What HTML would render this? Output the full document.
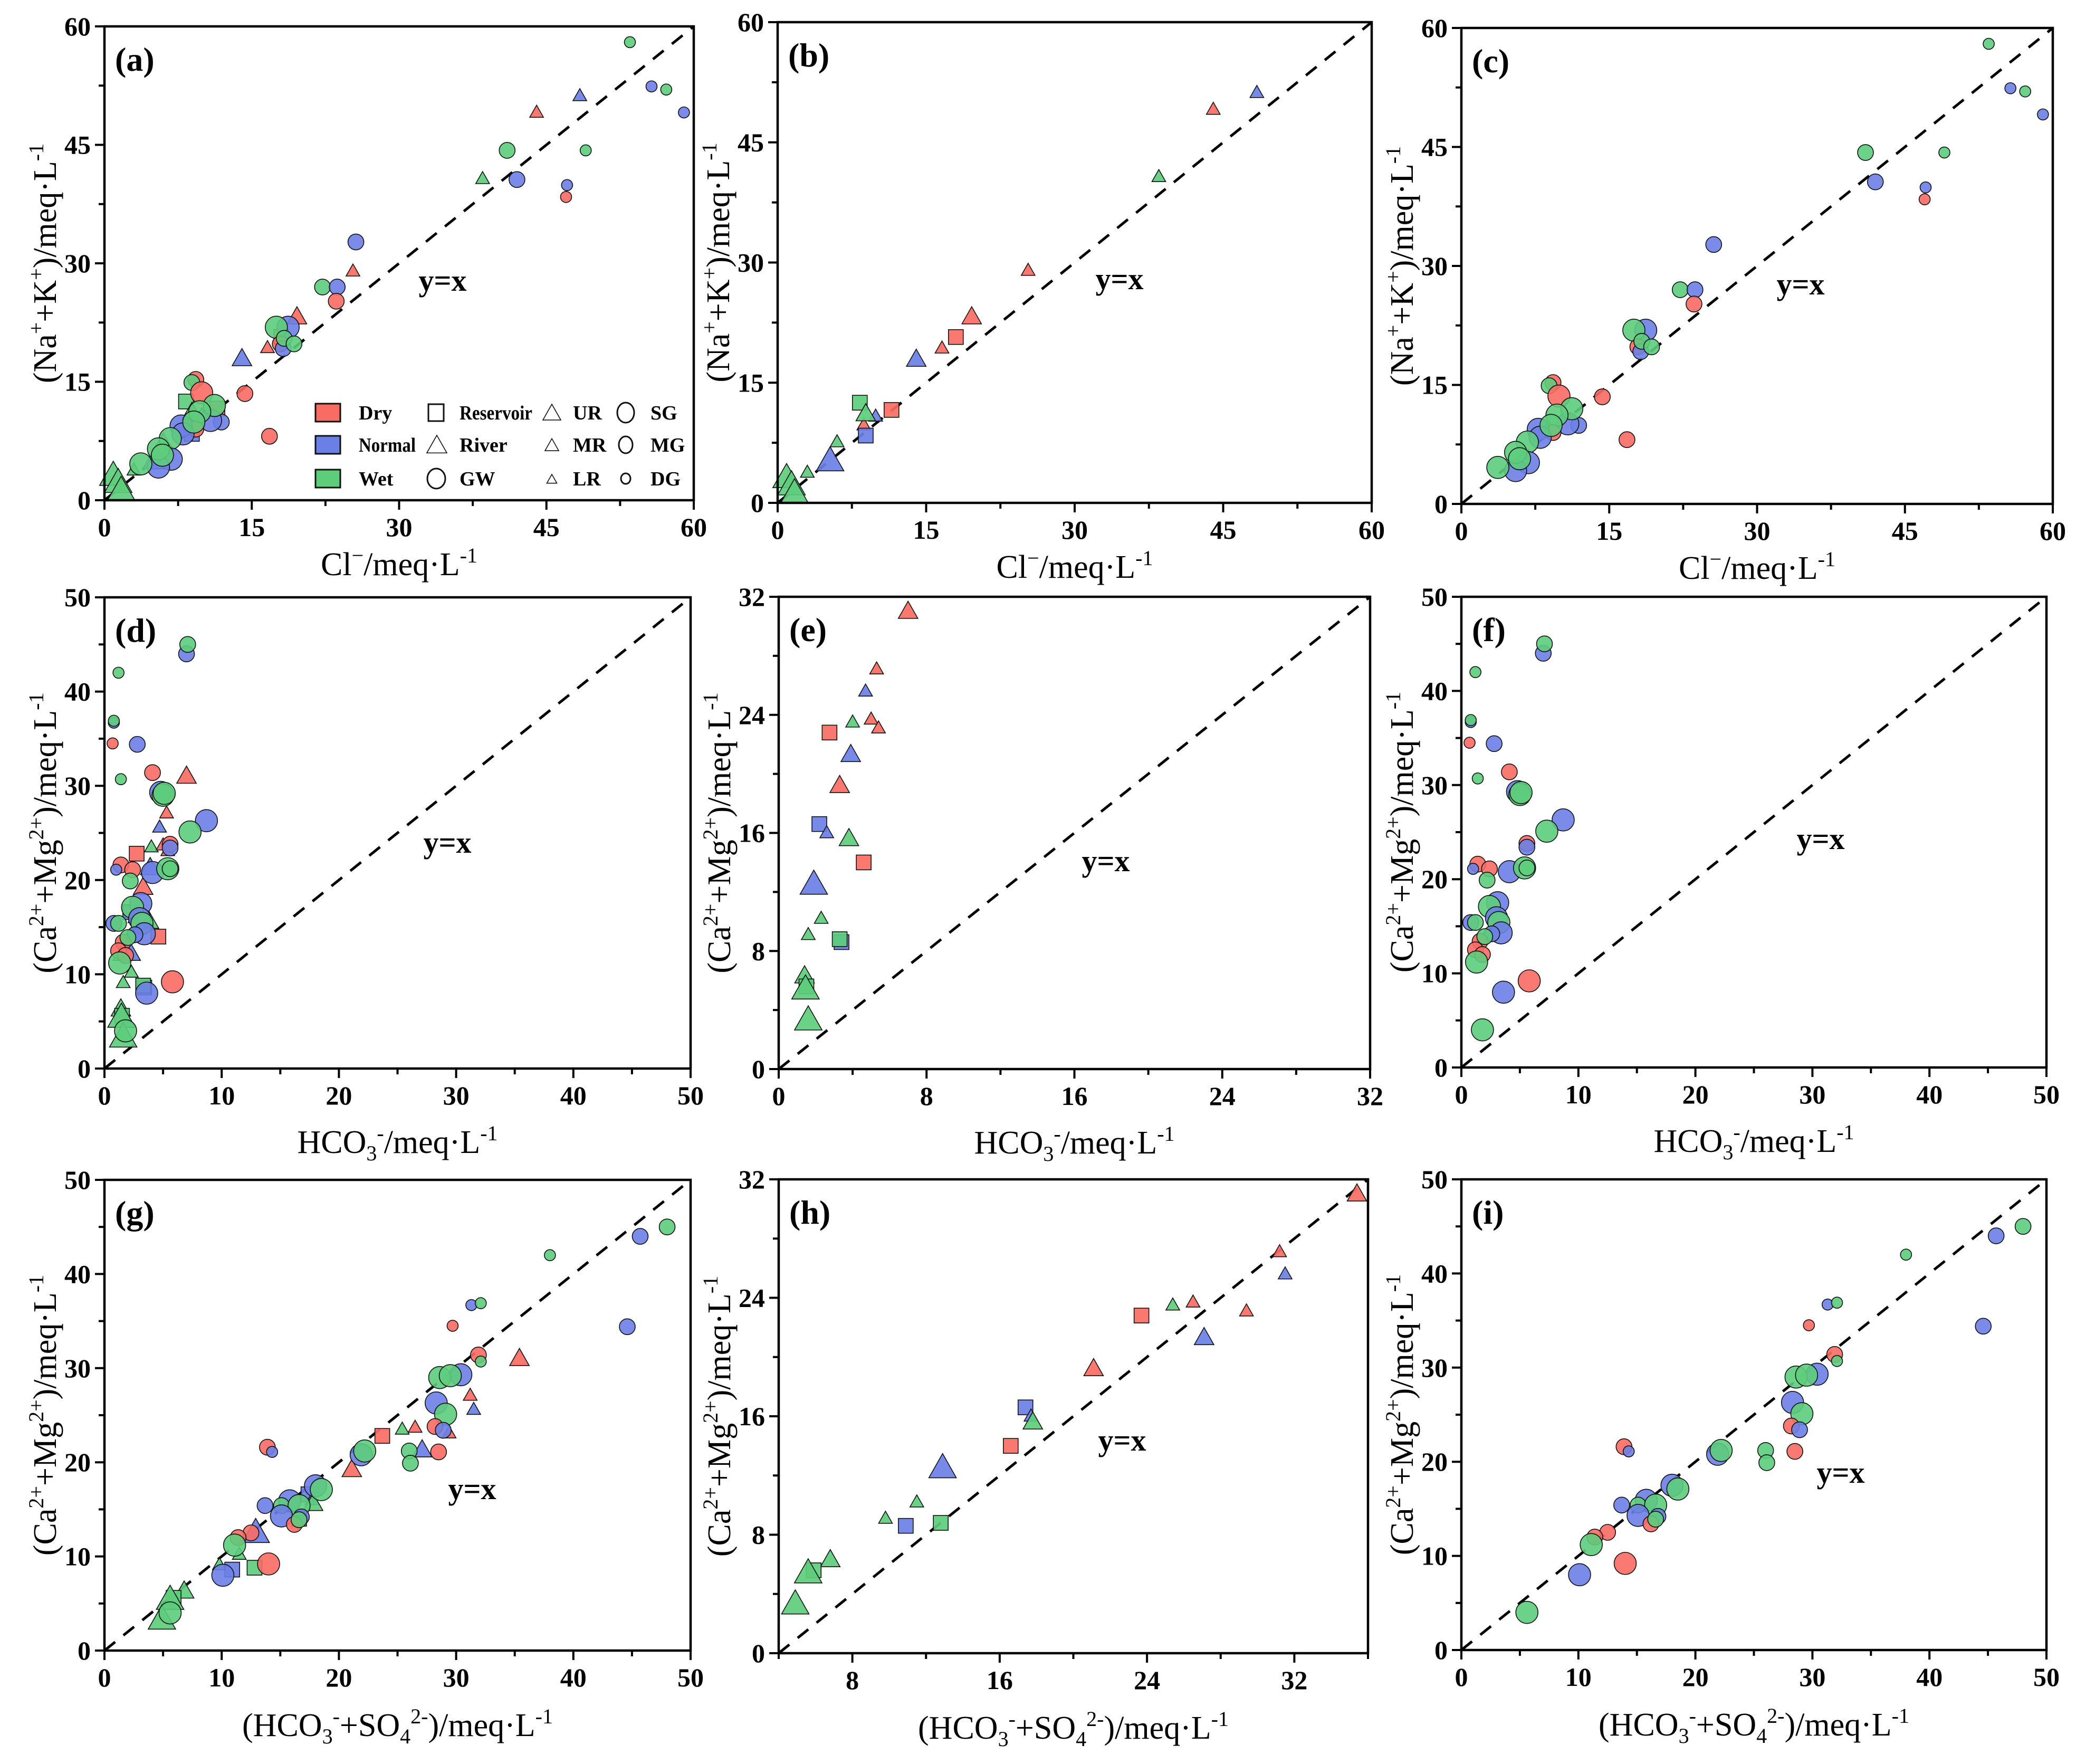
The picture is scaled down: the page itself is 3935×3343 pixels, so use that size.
<!DOCTYPE html>
<html><head><meta charset="utf-8"><title>Ion ratio scatter plots</title>
<style>
html,body{margin:0;padding:0;background:#fff;}
svg{display:block;font-family:"Liberation Serif","DejaVu Serif",serif;}
</style></head>
<body>
<svg id="fig" width="3935" height="3343" viewBox="0 0 3935 3343" xmlns="http://www.w3.org/2000/svg"></svg>
<script>
// ---- DATA ----
// groundwater: [Cl, Na+K, season, size]
const gwCl = [
[53.5,58.0,'w',3],[55.7,52.4,'n',3],[57.2,52.0,'w',3],[59.0,49.1,'n',3],
[41.0,44.3,'w',2],[49.0,44.3,'w',3],[42.0,40.6,'n',2],[47.1,39.9,'n',3],[47.0,38.4,'d',3],
[25.6,32.7,'n',2],[22.2,27.0,'w',2],[23.7,27.0,'n',2],[23.6,25.2,'d',2],
[18.7,21.9,'n',1],[17.5,21.9,'w',1],[17.9,19.8,'d',2],[18.2,19.2,'n',2],[18.3,20.5,'w',2],[19.3,19.8,'w',2],
[14.3,13.5,'d',2],[16.8,8.1,'d',2],[9.3,15.3,'d',2],[8.9,14.9,'w',2],[9.9,13.6,'d',1],
[11.9,9.9,'n',2],[10.8,10.1,'n',1],[11.2,12.0,'w',1],[9.7,11.2,'w',1],[9.3,9.0,'d',2],
[7.8,9.4,'n',1],[8.0,8.4,'n',1],[9.1,9.9,'w',1],[6.7,7.8,'w',1],
[6.8,5.2,'n',1],[5.5,4.2,'n',1],[5.5,6.5,'w',1],[5.9,5.7,'w',1],[3.7,4.6,'w',1]
];
// river / reservoir: [Cl, Na+K, season, shape, size]
const rvCl = [
[48.4,51.2,'n','t',3],[44.0,49.1,'d','t',3],[38.5,40.7,'w','t',3],[25.3,29.0,'d','t',3],
[19.6,23.2,'d','t',2],[18.0,20.7,'d','s',2],[16.6,19.3,'d','t',3],[14.0,17.9,'n','t',2],
[11.5,11.6,'d','s',2],[8.3,12.5,'w','s',2],[8.7,9.7,'d','t',3],[9.9,10.8,'n','t',3],[8.9,11.1,'w','t',2],
[8.9,8.4,'n','s',2],[6.0,7.6,'w','t',3],[5.3,5.2,'n','t',1],[3.0,3.8,'w','t',3],
[0.9,3.1,'w','t',1],[1.4,2.2,'w','t',1],[1.7,1.2,'w','t',1]
];
// groundwater: [HCO3, HCO3+SO4, Ca+Mg, season, size]
const gwCa = [
[7.0,45.7,44.0,'n',2],[7.1,48.0,45.0,'w',2],[1.2,38.0,42.0,'w',3],[0.8,31.3,36.7,'n',3],[0.8,32.1,36.9,'w',3],
[0.7,29.7,34.5,'d',3],[2.8,44.6,34.4,'n',2],[4.1,31.9,31.4,'d',2],[1.4,32.1,30.7,'w',3],
[4.8,30.4,29.3,'n',1],[5.0,28.6,29.0,'w',1],[5.1,29.5,29.2,'w',1],[8.7,28.3,26.3,'n',1],[7.3,29.1,25.1,'w',1],
[5.6,28.2,23.8,'d',2],[5.6,28.9,23.4,'n',2],[1.4,13.9,21.6,'d',2],[1.0,14.3,21.1,'n',3],[2.4,28.5,21.1,'d',2],
[4.1,21.9,20.8,'n',1],[5.4,22.2,21.2,'w',1],[5.6,26.0,21.2,'w',2],[2.2,26.1,19.9,'w',2],
[3.1,18.0,17.5,'n',1],[2.4,18.5,17.1,'w',1],[0.8,13.7,15.4,'n',2],[3.0,15.8,15.9,'n',1],[1.2,15.1,15.4,'w',2],
[3.2,16.6,15.4,'w',1],[3.4,15.1,14.3,'n',1],[2.6,16.8,14.2,'n',2],[1.6,16.2,13.4,'d',2],[2.0,16.6,13.9,'w',2],
[1.2,12.5,12.5,'d',2],[1.8,11.4,12.0,'d',2],[1.3,11.1,11.2,'w',1],[5.8,14.0,9.2,'d',1],[3.6,10.1,8.0,'n',1],
[1.8,5.6,4.0,'w',1]
];
// river / reservoir: [HCO3, HCO3+SO4, Ca+Mg, season, shape, size]
const rvCa = [
[7.0,35.4,31.0,'d','t',2],[5.3,31.2,27.1,'d','t',3],[4.7,31.5,25.6,'n','t',3],[4.0,25.4,23.5,'w','t',3],
[5.0,26.5,23.7,'d','t',3],[5.4,29.4,23.1,'d','t',3],[2.75,23.7,22.8,'d','s',2],[3.9,27.1,21.3,'n','t',2],
[3.3,21.1,19.2,'d','t',2],[2.2,17.4,16.6,'n','s',2],[2.6,17.7,16.0,'n','t',3],[3.8,17.8,15.6,'w','t',2],
[4.6,16.6,14.0,'d','s',2],[1.9,12.9,12.5,'n','t',1],[2.3,11.5,10.2,'w','t',3],[1.6,9.8,9.1,'w','t',3],
[3.4,10.9,8.6,'n','s',2],[3.3,12.8,8.8,'w','s',2],[1.4,6.8,6.3,'w','t',2],[1.5,5.9,5.6,'w','s',2],
[1.45,5.6,5.4,'w','t',1],[1.6,4.9,3.3,'w','t',1]
];
// tick labels
const ticks60 = [0,15,30,45,60];
const ticks50 = [0,10,20,30,40,50];
const ticks32 = [0,8,16,24,32];
const ticksH = [8,16,24,32];

// ---- RENDER ----
const NS='http://www.w3.org/2000/svg';
const svg=document.getElementById('fig');
const COL={d:'#F96C64',n:'#6B80E6',w:'#5DCD7C'};
const CR={1:21,2:15,3:10.5};
const TW={1:52,2:37,3:26};
function mk(tag,attrs,parent){const e=document.createElementNS(NS,tag);for(const k in attrs)e.setAttribute(k,attrs[k]);(parent||svg).appendChild(e);return e;}

const panels=[
{id:'a',x0:198,y0:50,x1:1315,y1:948,xr:[0,60],yr:[0,60],xt:ticks60,yt:ticks60,minor:7.5,gw:gwCl,rv:rvCl,mode:'cl',yx:[839,533],row:1},
{id:'b',x0:1474,y0:42,x1:2600,y1:953,xr:[0,60],yr:[0,60],xt:ticks60,yt:ticks60,minor:7.5,gw:null,rv:rvCl,mode:'cl',yx:[2122,530],row:1},
{id:'c',x0:2770,y0:53,x1:3891,y1:955,xr:[0,60],yr:[0,60],xt:ticks60,yt:ticks60,minor:7.5,gw:gwCl,rv:null,mode:'cl',yx:[3413,540],row:1},
{id:'d',x0:198,y0:1132,x1:1309,y1:2025,xr:[0,50],yr:[0,50],xt:ticks50,yt:ticks50,minor:5,gw:gwCa,rv:rvCa,mode:'h',yx:[848,1598],row:2},
{id:'e',x0:1476,y0:1131,x1:2597,y1:2026,xr:[0,32],yr:[0,32],xt:ticks32,yt:ticks32,minor:4,gw:null,rv:rvCa,mode:'h',yx:[2096,1633],row:2},
{id:'f',x0:2770,y0:1131,x1:3879,y1:2023,xr:[0,50],yr:[0,50],xt:ticks50,yt:ticks50,minor:5,gw:gwCa,rv:null,mode:'h',yx:[3451,1591],row:2},
{id:'g',x0:198,y0:2236,x1:1309,y1:3128,xr:[0,50],yr:[0,50],xt:ticks50,yt:ticks50,minor:5,gw:gwCa,rv:rvCa,mode:'hs',yx:[895,2823],row:3},
{id:'h',x0:1476,y0:2235,x1:2593,y1:3133,xr:[4,36],yr:[0,32],xt:ticksH,yt:ticks32,minor:4,gw:null,rv:rvCa,mode:'hs',yx:[2127,2731],row:3},
{id:'i',x0:2770,y0:2235,x1:3879,y1:3127,xr:[0,50],yr:[0,50],xt:ticks50,yt:ticks50,minor:5,gw:gwCa,rv:null,mode:'hs',yx:[3489,2792],row:3}
];

function drawTri(g,cx,cy,w,color){
  const h=w*0.88;
  const p=[[cx,cy-h*0.6],[cx-w/2,cy+h*0.4],[cx+w/2,cy+h*0.4]];
  return mk('polygon',{points:p.map(q=>q.join(',')).join(' '),fill:color,'fill-opacity':0.92,stroke:'#111','stroke-width':1.6},g);
}

panels.forEach(P=>{
  const g=mk('g',{});
  
  
  const sx=v=>P.x0+(v-P.xr[0])/(P.xr[1]-P.xr[0])*(P.x1-P.x0);
  const sy=v=>P.y1-(v-P.yr[0])/(P.yr[1]-P.yr[0])*(P.y1-P.y0);
  const dl=mk('line',{x1:P.x0,y1:P.y1,x2:P.x1,y2:P.y0,stroke:'#000','stroke-width':5,'stroke-dasharray':'26,20'},g);
  
  
  const pts=mk('g',{},g);
  
  
  if(P.rv){
    P.rv.forEach(r=>{
      let x,y,s,sh,sz;
      if(P.mode==='cl'){[x,y,s,sh,sz]=r;}
      else{x=P.mode==='h'?r[0]:r[1];y=r[2];s=r[3];sh=r[4];sz=r[5];}
      const cx=sx(x),cy=sy(y);let e;
      if(sh==='t'){e=drawTri(pts,cx,cy,TW[sz],COL[s]);}
      else{e=mk('rect',{x:cx-14,y:cy-14,width:28,height:28,fill:COL[s],'fill-opacity':0.92,stroke:'#111','stroke-width':1.6},pts);}
      
      
    });
  }
  if(P.gw){
    P.gw.forEach(r=>{
      let x,y,s,sz;
      if(P.mode==='cl'){[x,y,s,sz]=r;}
      else{x=P.mode==='h'?r[0]:r[1];y=r[2];s=r[3];sz=r[4];}
      const e=mk('circle',{cx:sx(x),cy:sy(y),r:CR[sz],fill:COL[s],'fill-opacity':0.9,stroke:'#111','stroke-width':1.6},pts);
      
      
    });
  }
  const fr=mk('rect',{x:P.x0,y:P.y0,width:P.x1-P.x0,height:P.y1-P.y0,fill:'none',stroke:'#000','stroke-width':4.5},g);
  
  
  const xa=mk('g',{},g);
  
  
  for(let v=P.xr[0];v<=P.xr[1]+1e-6;v+=P.minor){
    const isMaj=P.xt.some(t=>Math.abs(t-v)<1e-6);
    mk('line',{x1:sx(v),y1:P.y1,x2:sx(v),y2:P.y1+(isMaj?18:11),stroke:'#000','stroke-width':4},xa);
  }
  P.xt.forEach(t=>{
    const tx=mk('text',{x:sx(t),y:P.y1+68,'text-anchor':'middle','font-size':50,'font-weight':'bold'},xa);
    tx.textContent=t;
    
    
  });
  const ya=mk('g',{},g);
  
  
  for(let v=P.yr[0];v<=P.yr[1]+1e-6;v+=P.minor){
    const isMaj=P.yt.some(t=>Math.abs(t-v)<1e-6);
    mk('line',{x1:P.x0,y1:sy(v),x2:P.x0-(isMaj?18:11),y2:sy(v),stroke:'#000','stroke-width':4},ya);
  }
  P.yt.forEach(t=>{
    const tx=mk('text',{x:P.x0-26,y:sy(t)+17,'text-anchor':'end','font-size':50,'font-weight':'bold'},ya);
    tx.textContent=t;
    
    
  });
  const pl=mk('text',{x:P.x0+20,y:P.y0+84,'font-size':64,'font-weight':'bold'},g);
  pl.textContent='('+P.id+')';
  
  
  const yl=mk('text',{x:P.yx[0],y:P.yx[1]+18,'text-anchor':'middle','font-size':58,'font-weight':'bold'},g);
  yl.textContent='y=x';
  
  
  const midX=(P.x0+P.x1)/2, midY=(P.y0+P.y1)/2;
  let xt;
  if(P.row===1){
    xt=mk('text',{x:midX,y:P.y1+142,'text-anchor':'middle','font-size':62},g);
    xt.innerHTML='Cl<tspan dy="-24" font-size="40">−</tspan><tspan dy="24">/meq·L</tspan><tspan dy="-24" font-size="40">-1</tspan>';
  }else if(P.row===2){
    xt=mk('text',{x:midX,y:P.y1+160,'text-anchor':'middle','font-size':62},g);
    xt.innerHTML='HCO<tspan dy="14" font-size="40">3</tspan><tspan dy="-38" font-size="40">-</tspan><tspan dy="24">/meq·L</tspan><tspan dy="-24" font-size="40">-1</tspan>';
  }else{
    xt=mk('text',{x:midX,y:P.y1+162,'text-anchor':'middle','font-size':62},g);
    xt.innerHTML='(HCO<tspan dy="14" font-size="40">3</tspan><tspan dy="-38" font-size="40">-</tspan><tspan dy="24">+SO</tspan><tspan dy="14" font-size="40">4</tspan><tspan dy="-38" font-size="40">2-</tspan><tspan dy="24">)/meq·L</tspan><tspan dy="-24" font-size="40">-1</tspan>';
  }
  
  
  const yt=mk('text',{x:0,y:0,'text-anchor':'middle','font-size':62,transform:'translate('+(P.x0-92)+','+midY+') rotate(-90)'},g);
  if(P.row===1){
    yt.innerHTML='(Na<tspan dy="-24" font-size="40">+</tspan><tspan dy="24">+K</tspan><tspan dy="-24" font-size="40">+</tspan><tspan dy="24">)/meq·L</tspan><tspan dy="-24" font-size="40">-1</tspan>';
  }else{
    yt.innerHTML='(Ca<tspan dy="-24" font-size="40">2+</tspan><tspan dy="24">+Mg</tspan><tspan dy="-24" font-size="40">2+</tspan><tspan dy="24">)/meq·L</tspan><tspan dy="-24" font-size="40">-1</tspan>';
  }
  
  
});

// ---- LEGEND (panel a) ----
const lg=mk('g',{'font-size':38,'font-weight':'bold'});


const rowsY=[782,843,907];
const seasons=[['Dry','d'],['Normal','n'],['Wet','w']];
function ltext(x,y,s,len){
  const t=mk('text',{x:x,y:y},lg);t.textContent=s;
  if(len){t.setAttribute('textLength',len);t.setAttribute('lengthAdjust','spacingAndGlyphs');}
  
  
}
seasons.forEach((s,i)=>{
  const r=mk('rect',{x:598,y:rowsY[i]-17,width:47,height:34,fill:COL[s[1]],stroke:'#111','stroke-width':3},lg);
  
  
  ltext(680,rowsY[i]+13,s[0],s[0]==='Normal'?108:null);
});
mk('rect',{x:812,y:rowsY[0]-16,width:29,height:32,fill:'none',stroke:'#111','stroke-width':3},lg);
drawTri(lg,828,rowsY[1]+2,38,'none');
mk('ellipse',{cx:827,cy:rowsY[2],rx:17,ry:19,fill:'none',stroke:'#111','stroke-width':3},lg);
ltext(871,rowsY[0]+13,'Reservoir',138);
ltext(871,rowsY[1]+13,'River',null);
ltext(871,rowsY[2]+13,'GW',null);
[34,26,19].forEach((w,i)=>{drawTri(lg,1046,rowsY[i]+2,w,'none');});
['UR','MR','LR'].forEach((n,i)=>ltext(1086,rowsY[i]+13,n,null));
[[16,19],[13,16],[9,10]].forEach((r,i)=>{mk('ellipse',{cx:1186,cy:rowsY[i],rx:r[0],ry:r[1],fill:'none',stroke:'#111','stroke-width':3},lg);});
['SG','MG','DG'].forEach((n,i)=>ltext(1233,rowsY[i]+13,n,null));
</script>
</body></html>
